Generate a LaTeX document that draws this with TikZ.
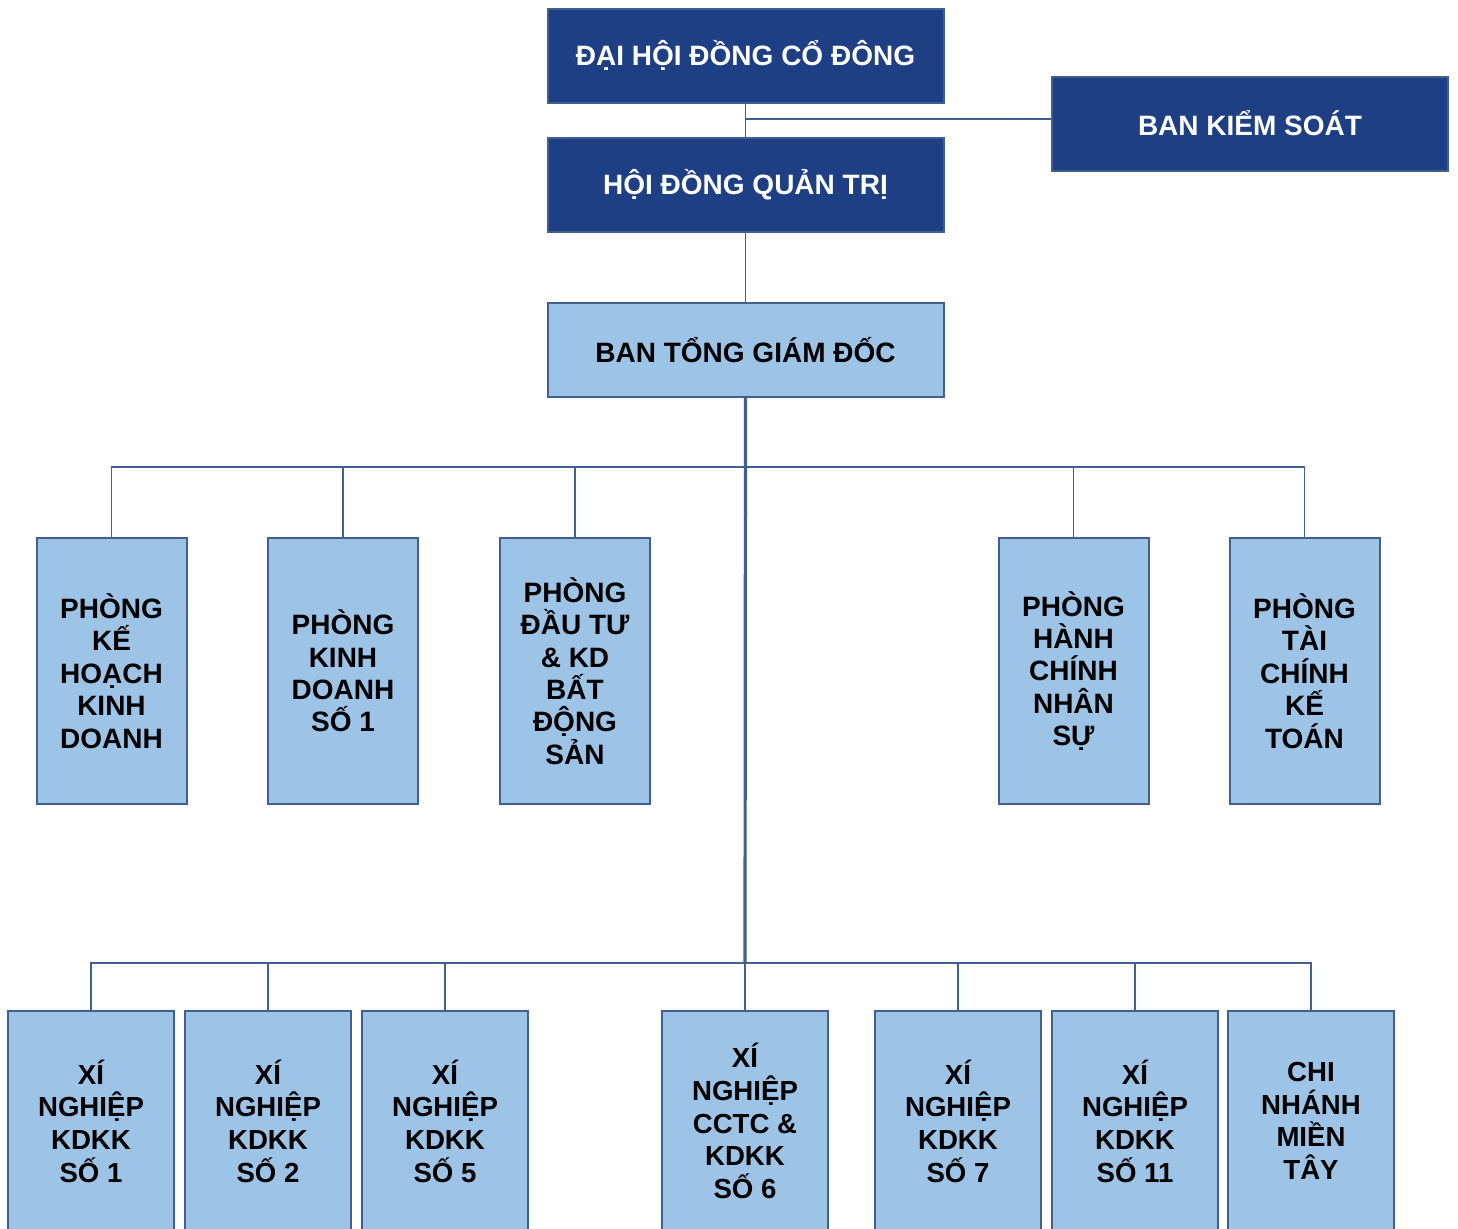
\documentclass[tikz,border=0pt]{standalone}
\usepackage{fontspec}
\setmainfont{Liberation Sans}
\usepackage{xcolor}
\usetikzlibrary{positioning}

\definecolor{darkblue}{HTML}{1F3F85}
\definecolor{lightblue}{HTML}{9DC3E6}
\definecolor{edgeblue}{HTML}{41608F}

\begin{document}
\begin{tikzpicture}[
  x=0.5pt, y=-0.5pt,
  box/.style={draw=edgeblue, line width=1pt, inner sep=0pt, align=center,
              font=\bfseries\fontsize{14}{16.2}\selectfont},
  topbox/.style={box, fill=darkblue, text=white, minimum width=198pt, minimum height=47pt},
  midbox/.style={box, fill=lightblue, minimum width=198pt, minimum height=47pt},
  dept/.style={box, fill=lightblue, minimum width=75pt, minimum height=133pt},
  unit/.style={box, fill=lightblue, minimum width=83pt, minimum height=110pt,
               font=\bfseries\fontsize{13.8}{16.3}\selectfont},
  conn/.style={draw=edgeblue, line width=0.7pt},
  trunk/.style={draw=edgeblue, line width=1.6pt}
]
\useasboundingbox (0,0) rectangle (1458,1228);
\clip (0,0) rectangle (1458,1228);

%% Top levels
\node[topbox] (dhcd) at (745.5, 55.5) {ĐẠI HỘI ĐỒNG CỔ ĐÔNG};
\node[topbox] (hdqt) at (745.5,184.5) {HỘI ĐỒNG QUẢN TRỊ};
\node[topbox] (bks)  at (1250,123.5)  {BAN KIỂM SOÁT};
\node[midbox] (btgd) at (745.5,350)   {BAN TỔNG GIÁM ĐỐC};

%% Departments
\node[dept] (pkh) at (111.5,671)  {PHÒNG\\KẾ\\HOẠCH\\KINH\\DOANH};
\node[dept] (pkd) at (343,671)    {PHÒNG\\KINH\\DOANH\\SỐ 1};
\node[dept] (pdt) at (575,671)    {PHÒNG\\ĐẦU TƯ\\\& KD\\BẤT\\ĐỘNG\\SẢN};
\node[dept] (phc) at (1073.5,671) {PHÒNG\\HÀNH\\CHÍNH\\NHÂN\\SỰ};
\node[dept] (ptc) at (1304.5,671) {PHÒNG\\TÀI\\CHÍNH\\KẾ\\TOÁN};

%% Units
\node[unit] (xn1)  at (91,1121)   {XÍ\\NGHIỆP\\KDKK\\SỐ 1};
\node[unit] (xn2)  at (268,1121)  {XÍ\\NGHIỆP\\KDKK\\SỐ 2};
\node[unit] (xn5)  at (445,1121)  {XÍ\\NGHIỆP\\KDKK\\SỐ 5};
\node[unit] (xn6)  at (745,1121)  {XÍ\\NGHIỆP\\CCTC \&\\KDKK\\SỐ 6};
\node[unit] (xn7)  at (958,1121)  {XÍ\\NGHIỆP\\KDKK\\SỐ 7};
\node[unit] (xn11) at (1135,1121) {XÍ\\NGHIỆP\\KDKK\\SỐ 11};
\node[unit] (cnmt) at (1311,1121) {CHI\\NHÁNH\\MIỀN\\TÂY};

%% Junctions
\coordinate (kj)   at (745,119);
\coordinate (bus1) at (745,467);
\coordinate (bus2) at (745,963);

%% Top connectors
\draw[conn] (dhcd.south) -- (hdqt.north);
\draw[conn] (bks.west |- kj) -- (kj);
\draw[conn] (hdqt.south) -- (btgd.north);
\draw[trunk] (btgd.south) -- (bus2);

%% Department bus
\draw[conn] (pkh.north) |- (bus1) -| (ptc.north);
\foreach \n in {pkd, pdt, phc}
  \draw[conn] (\n.north) -- (\n.north |- bus1);

%% Unit bus
\draw[conn] (xn1.north) |- (bus2) -| (cnmt.north);
\foreach \n in {xn2, xn5, xn6, xn7, xn11}
  \draw[conn] (\n.north) -- (\n.north |- bus2);

\end{tikzpicture}
\end{document}
